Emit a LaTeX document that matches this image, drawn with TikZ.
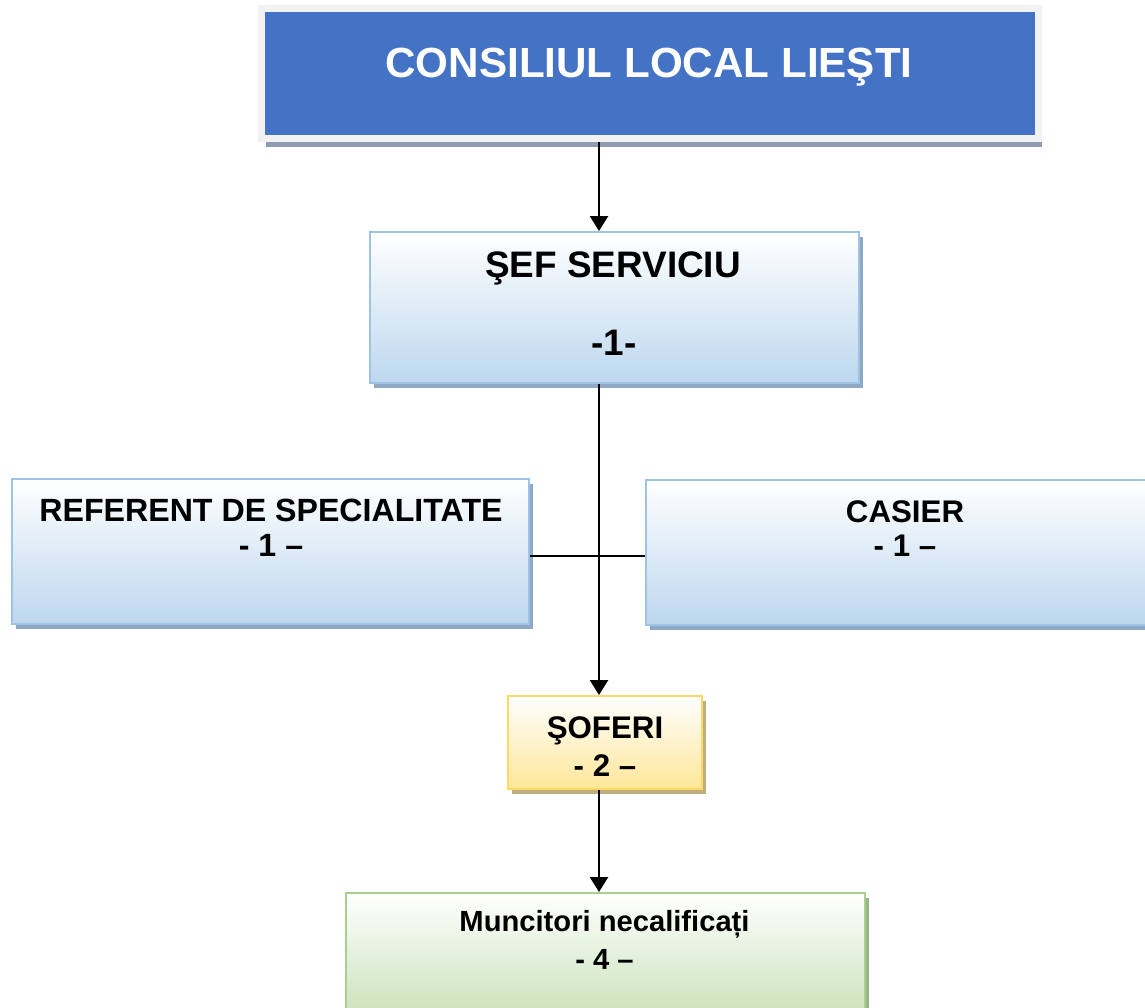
\documentclass[tikz,border=0pt]{standalone}
\usepackage{fontspec}
\setmainfont{Liberation Sans}
\usepackage{tikz}
\usetikzlibrary{positioning,arrows.meta,shadows}

\definecolor{titleblue}{HTML}{4472C4}
\definecolor{framegray}{HTML}{F2F2F2}
\definecolor{titleshadow}{HTML}{8E9BB3}
\definecolor{boxblue}{HTML}{BDD7EE}
\definecolor{edgeblue}{HTML}{9DC3E6}
\definecolor{shadeblue}{HTML}{8FA8C6}
\definecolor{boxyellow}{HTML}{FFE699}
\definecolor{edgeyellow}{HTML}{FFD966}
\definecolor{shadeyellow}{HTML}{BFAE7F}
\definecolor{boxgreen}{HTML}{C5E0B4}
\definecolor{edgegreen}{HTML}{A9D18E}
\definecolor{shadegreen}{HTML}{98B587}

\begin{document}
\begin{tikzpicture}[x=0.02cm, y=-0.02cm,
    box/.style={rectangle, inner sep=0pt, line width=0.04cm, top color=white},
    titlebox/.style={rectangle, inner sep=0pt, line width=0.14cm, draw=framegray, fill=titleblue,
        drop shadow={shadow xshift=0.08cm, shadow yshift=-0.18cm, fill=titleshadow, opacity=1}},
    bluebox/.style={box, draw=edgeblue, bottom color=boxblue,
        drop shadow={shadow xshift=0.08cm, shadow yshift=-0.1cm, fill=shadeblue, opacity=1}},
    yellowbox/.style={box, draw=edgeyellow, bottom color=boxyellow,
        drop shadow={shadow xshift=0.08cm, shadow yshift=-0.1cm, fill=shadeyellow, opacity=1}},
    greenbox/.style={box, draw=edgegreen, bottom color=boxgreen,
        drop shadow={shadow xshift=0.08cm, shadow yshift=-0.1cm, fill=shadegreen, opacity=1}},
    lbl/.style={anchor=base, inner sep=0pt},
    link/.style={line width=0.05cm, -{Triangle[length=0.3cm, width=0.36cm]}},
    branch/.style={line width=0.04cm}]

    \useasboundingbox (0,0) rectangle (1145,1007);

    % boxes
    \node[titlebox, minimum width=15.54cm, minimum height=2.6cm] (council) at (650,73.5) {};
    \node[bluebox, minimum width=9.78cm, minimum height=3.02cm] (chief) at (614.5,307.5) {};
    \node[bluebox, minimum width=10.34cm, minimum height=2.9cm] (referent) at (270.5,551.5) {};
    \node[bluebox, minimum width=10.36cm, minimum height=2.9cm] (cashier) at (905,552.5) {};
    \node[yellowbox, minimum width=3.88cm, minimum height=1.86cm] (drivers) at (605,742.5) {};
    \node[greenbox, minimum width=10.38cm, minimum height=2.68cm] (workers) at (605.5,960) {};

    % texts
    \node[lbl, text=white, font=\bfseries\fontsize{24}{28}\selectfont] (councilname) at (649,78) {CONSILIUL LOCAL LIEŞTI};
    \node[lbl, font=\bfseries\fontsize{21}{25}\selectfont] (chiefname) at (613,277) {ŞEF SERVICIU};
    \node[lbl, font=\bfseries\fontsize{21}{25}\selectfont] (chiefcount) at (614,355) {-1-};
    \node[lbl, font=\bfseries\fontsize{18.3}{22}\selectfont] (referentname) at (271,521) {REFERENT DE SPECIALITATE};
    \node[lbl, font=\bfseries\fontsize{18.3}{22}\selectfont] (referentcount) at (271,556) {- 1 –};
    \node[lbl, font=\bfseries\fontsize{17.8}{21}\selectfont] (cashiername) at (905,522) {CASIER};
    \node[lbl, font=\bfseries\fontsize{17.8}{21}\selectfont] (cashiercount) at (905,556) {- 1 –};
    \node[lbl, font=\bfseries\fontsize{17.8}{21}\selectfont] (driversname) at (605,738) {ŞOFERI};
    \node[lbl, font=\bfseries\fontsize{17.8}{21}\selectfont] (driverscount) at (605,776) {- 2 –};
    \node[lbl, font=\bfseries\fontsize{16.6}{20}\selectfont] (workersname) at (604.5,931) {Muncitori necalificați};
    \node[lbl, font=\bfseries\fontsize{16.6}{20}\selectfont] (workerscount) at (604.5,969) {- 4 –};

    % connectors
    \coordinate (trunk) at (599,0);
    \coordinate (split) at (599,556);
    \draw[link] (council.south -| trunk) -- (chief.north -| trunk);
    \draw[link] (chief.south -| trunk) -- (drivers.north -| trunk);
    \draw[link] (drivers.south -| trunk) -- (workers.north -| trunk);
    \draw[branch] (referent.east |- split) -- (cashier.west |- split);

\end{tikzpicture}
\end{document}
